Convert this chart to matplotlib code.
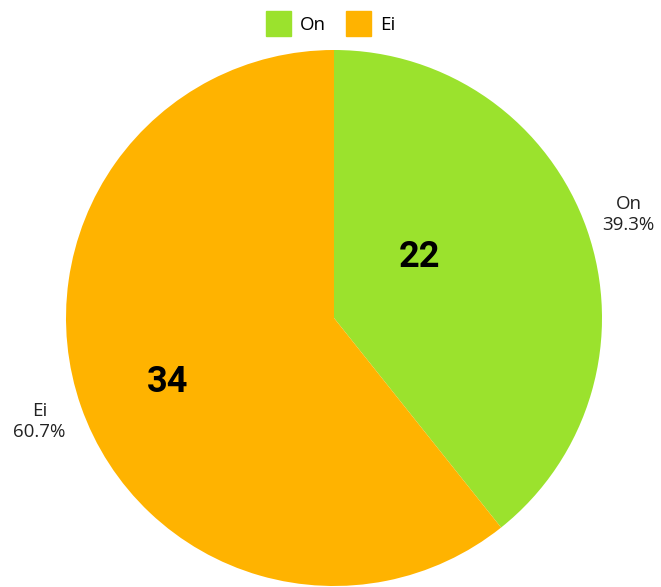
import matplotlib.pyplot as plt
import matplotlib.patches as mpatches

labels = ['On', 'Ei']
values = [22, 34]
colors = ['#9BE22D', '#FFB300']

plt.rcParams['font.family'] = ['Open Sans', 'DejaVu Sans']

W, H = 661, 587
fig = plt.figure(figsize=(W / 100, H / 100), dpi=100)
ax = fig.add_axes([0, 0, 1, 1])

cx, cy, r = 334, H - 318, 268
total = sum(values)
outer = [f"{l}\n{v / total * 100:.1f}%" for l, v in zip(labels, values)]

wedges, texts = ax.pie(values, colors=colors, startangle=90, counterclock=False,
                       center=(cx, cy), radius=r, labels=outer, labeldistance=1.165,
                       wedgeprops=dict(linewidth=0), textprops=dict(fontsize=13.5, color='#222222'))
for t in texts:
    t.set_ha('center')
    t.set_va('center')
    t.set_linespacing(1.2)

# pie() resets the limits, so set them afterwards
ax.set_xlim(0, W)
ax.set_ylim(0, H)
ax.set_aspect('equal')
ax.axis('off')

# value labels inside the slices
inner_pos = [(419, H - 257), (168, H - 382)]
for (x, y), v in zip(inner_pos, values):
    ax.text(x, y, str(v), ha='center', va='center', fontsize=26, fontweight='bold',
            family='Roboto', color='black')

handles = [mpatches.Patch(color=c, label=l) for c, l in zip(colors, labels)]
fig.legend(handles=handles, loc='upper center', bbox_to_anchor=(0.5, 1.0), ncol=2, frameon=False,
           fontsize=13.5, handlelength=1.34, handleheight=1.67, handletextpad=0.45, columnspacing=1.1,
           borderaxespad=0.2)

fig.savefig('out.png', dpi=100)
